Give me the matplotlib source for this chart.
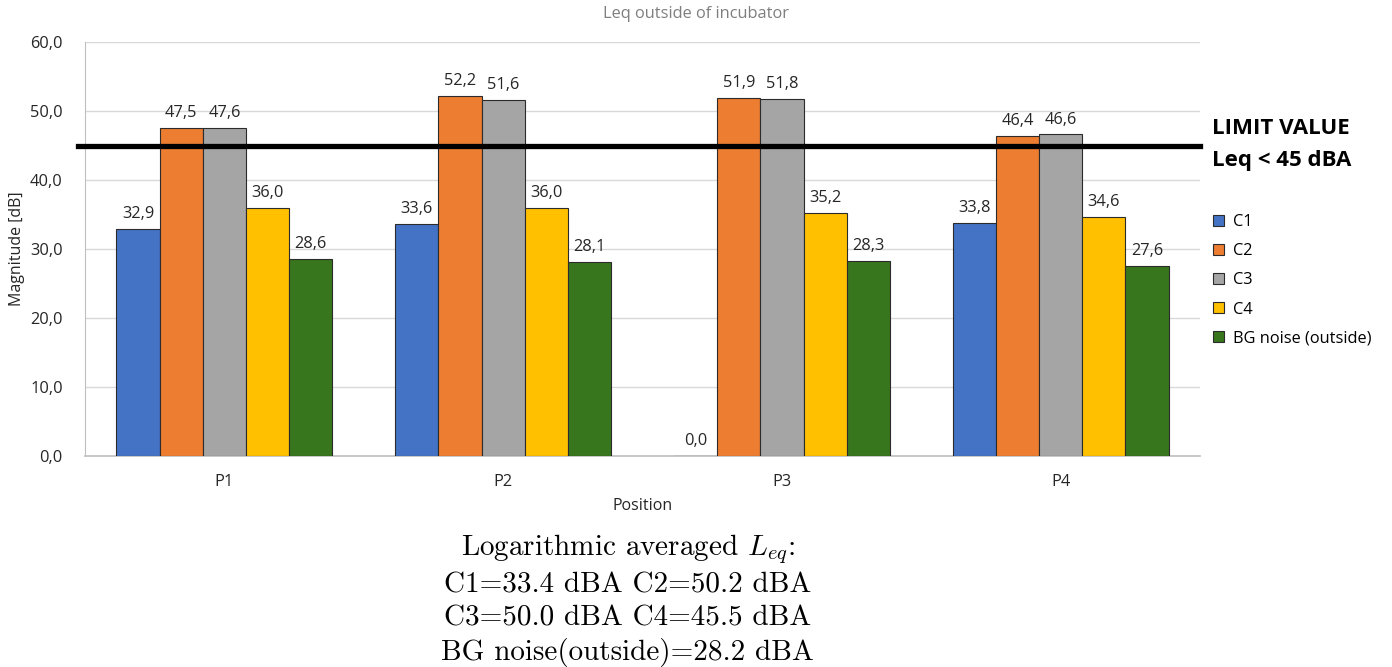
import matplotlib
matplotlib.use("Agg")
import matplotlib.pyplot as plt
import numpy as np

positions = ["P1", "P2", "P3", "P4"]
series_names = ["C1", "C2", "C3", "C4", "BG noise (outside)"]
c1 = [32.9, 33.6, 0.0, 33.8]
c2 = [47.5, 52.2, 51.9, 46.4]
c3 = [47.6, 51.6, 51.8, 46.6]
c4 = [36.0, 36.0, 35.2, 34.6]
bg_noise = [28.6, 28.1, 28.3, 27.6]
limit_value = 45.0
y_ticks = [0, 10, 20, 30, 40, 50, 60]

colors = ["#4472C4", "#ED7D31", "#A5A5A5", "#FFC000", "#38761D"]

plt.rcParams["font.family"] = ["Open Sans", "DejaVu Sans"]
plt.rcParams["mathtext.fontset"] = "cm"

fig = plt.figure(figsize=(13.92, 6.67), dpi=100)
ax = fig.add_axes([0.0611, 0.3163, 0.801, 0.6207])

series = [c1, c2, c3, c4, bg_noise]
x = np.arange(len(positions))
width = 0.155
for i, (name, vals, col) in enumerate(zip(series_names, series, colors)):
    offs = (i - 2) * width
    bars = ax.bar(x + offs, vals, width, color=col, edgecolor="#2b2b2b",
                  linewidth=0.8, label=name, zorder=3)
    for b, v in zip(bars, vals):
        ax.annotate(f"{v:.1f}".replace(".", ","),
                    (b.get_x() + b.get_width() / 2, v),
                    xytext=(0, 5), textcoords="offset points",
                    ha="center", va="bottom", fontsize=11.8, color="#262626",
                    zorder=5)

ax.axhline(limit_value, xmin=-0.006, xmax=1.0, color="black", linewidth=3.8,
           clip_on=False, zorder=4)

ax.set_xlim(-0.5, len(positions) - 0.5)
ax.set_ylim(0, 60)
ax.set_yticks(y_ticks)
ax.set_yticklabels([f"{t:.1f}".replace(".", ",") for t in y_ticks])
ax.set_xticks(x)
ax.set_xticklabels(positions)
ax.tick_params(axis="both", length=0, labelsize=11.8, colors="#262626")
ax.tick_params(axis="y", pad=16)
ax.tick_params(axis="x", pad=13)
ax.grid(axis="y", color="#d9d9d9", linewidth=1.0, zorder=0)
for s in ["top", "right"]:
    ax.spines[s].set_visible(False)
ax.spines["left"].set_color("#bfbfbf")
ax.spines["bottom"].set_color("#bfbfbf")
ax.spines["bottom"].set_linewidth(1.2)

ax.set_xlabel("Position", fontsize=11.5, color="#262626", labelpad=6)
ax.set_ylabel("Magnitude [dB]", fontsize=11.5, color="#262626", labelpad=4)
fig.text(0.5, 0.979, "Leq outside of incubator", ha="center", va="center",
         fontsize=11.8, color="#7f7f7f")

fig.text(0.871, 0.807, "LIMIT VALUE", ha="left", va="center",
         fontsize=16, fontweight="bold", color="black")
fig.text(0.871, 0.760, "Leq < 45 dBA", ha="left", va="center",
         fontsize=16, fontweight="bold", color="black")

ax.legend(loc="upper left", bbox_to_anchor=(1.006, 0.60), frameon=False,
          fontsize=11.8, handlelength=0.65, handleheight=0.65,
          handletextpad=0.55, labelspacing=0.8, borderaxespad=0)

summary = ("Logarithmic averaged $L_{eq}$:\n"
           "C1=33.4 dBA C2=50.2 dBA\n"
           "C3=50.0 dBA C4=45.5 dBA\n"
           "BG noise(outside)=28.2 dBA")
fig.text(0.451, 0.101, summary, ha="center", va="center", fontsize=21,
         family="cmr10", linespacing=1.3, color="black")

fig.savefig("out.png", dpi=100)
